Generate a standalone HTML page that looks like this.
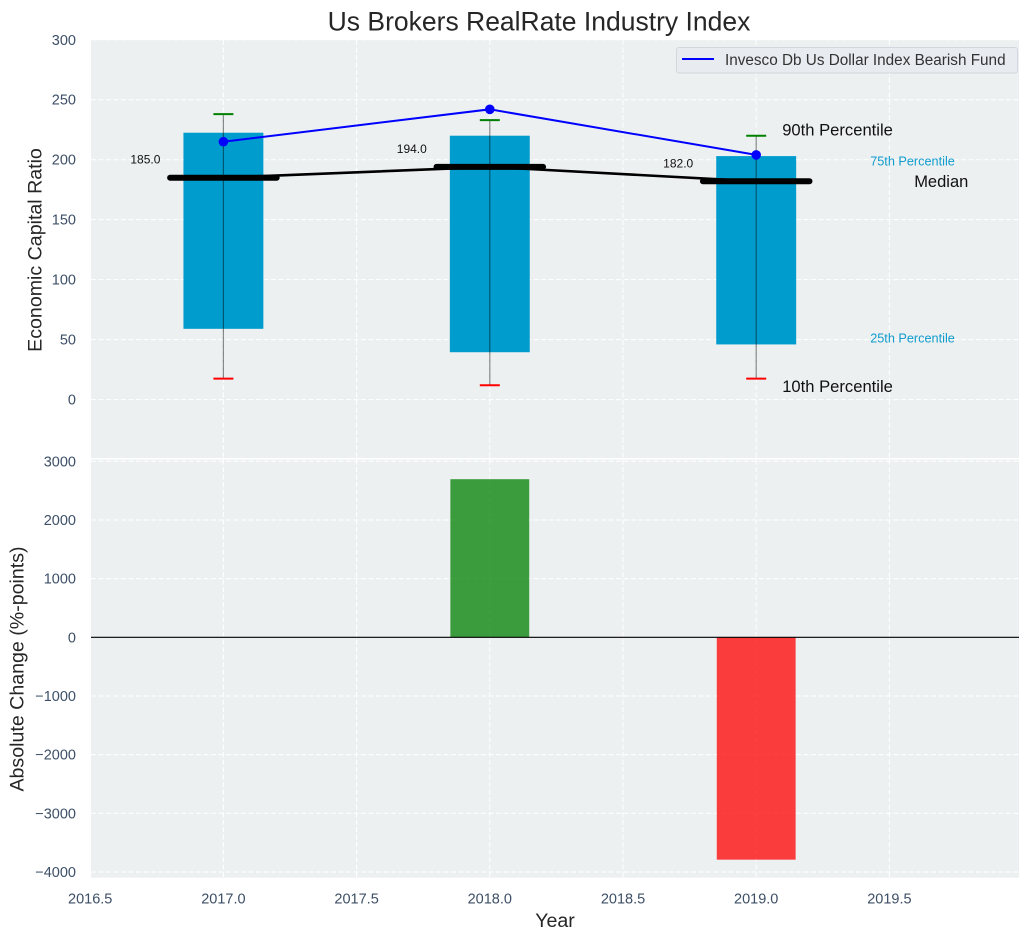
<!DOCTYPE html>
<html lang="en">
<head>
<meta charset="utf-8">
<title>Us Brokers RealRate Industry Index</title>
<style>
html,body{margin:0;padding:0;background:#fff}
svg{display:block;font-family:"Liberation Sans",Arial,sans-serif}
</style>
</head>
<body>
<svg id="chart" xmlns="http://www.w3.org/2000/svg" width="1029" height="940" viewBox="0 0 1029 940"></svg>
<script>
const years = [2017, 2018, 2019];
const whiskerHigh = [238, 233, 220];
const boxHigh = [222.5, 220, 203];
const median = [185, 194, 182];
const boxLow = [59, 39.5, 46];
const whiskerLow = [17.5, 12, 17.5];
const fundValues = [215, 242, 204];
const changeValues = [0, 2695, -3790];
const fundName = 'Invesco Db Us Dollar Index Bearish Fund';
const xTicks = [2016.5, 2017, 2017.5, 2018, 2018.5, 2019, 2019.5];
const topTicks = [0, 50, 100, 150, 200, 250, 300];
const bottomTicks = [-4000, -3000, -2000, -1000, 0, 1000, 2000, 3000];

const svg = document.getElementById('chart');
const NS = 'http://www.w3.org/2000/svg';
const X = v => 223.4 + (v - 2017) * 266.4;
const YT = v => 399.6 - v * 1.1995;
const YB = v => 637.3 - v * 0.05867;
const L = 91, R = 1019;
const BOX_W = 0.3, MED_W = 0.4, CAP = 10;

function el(tag, attrs, parent) {
  const e = document.createElementNS(NS, tag);
  for (const k in attrs) e.setAttribute(k, attrs[k]);
  (parent || svg).appendChild(e);
  return e;
}
function txt(s, attrs, parent) {
  const e = el('text', attrs, parent);
  e.textContent = s;
  return e;
}
const fmtTick = v => (v < 0 ? '\u2212' + Math.abs(v) : String(v));

/* panels */
const panelTop = el('rect', {x: L, y: 40, width: R - L, height: 418, fill: '#ecf0f1'});


const panelBottom = el('rect', {x: L, y: 459.6, width: R - L, height: 418.1, fill: '#ecf0f1'});



/* grid */
const grid = el('g', {stroke: '#fff', 'stroke-width': 1, 'stroke-dasharray': '5 2.5', fill: 'none'});


xTicks.forEach(t => {
  if (X(t) < L) return;
  el('line', {x1: X(t), x2: X(t), y1: 40, y2: 458}, grid);
  el('line', {x1: X(t), x2: X(t), y1: 459.6, y2: 877.7}, grid);
});
topTicks.forEach(t => el('line', {x1: L, x2: R, y1: YT(t), y2: YT(t)}, grid));
bottomTicks.forEach(t => el('line', {x1: L, x2: R, y1: YB(t), y2: YB(t)}, grid));

/* ticks */
const tickStyle = {fill: '#3d4f66', 'font-size': 14.5};
const xAxis = el('g', tickStyle);


xTicks.forEach(t => {
  const label = txt(t.toFixed(1), {x: X(t), y: 903.5, 'text-anchor': 'middle'}, xAxis);
  
  
});
const yAxisTop = el('g', tickStyle);


topTicks.forEach(t => {
  const label = txt(fmtTick(t), {x: 76, y: YT(t) + 5, 'text-anchor': 'end'}, yAxisTop);
  
  
});
const yAxisBottom = el('g', tickStyle);


bottomTicks.forEach(t => {
  const label = txt(fmtTick(t), {x: 76, y: YB(t) + 5, 'text-anchor': 'end'}, yAxisBottom);
  
  
});

/* boxes */
years.forEach((yr, i) => {
  const box = el('rect', {
    x: X(yr - BOX_W / 2), width: X(yr + BOX_W / 2) - X(yr - BOX_W / 2),
    y: YT(boxHigh[i]), height: YT(boxLow[i]) - YT(boxHigh[i]), fill: '#009ccd'
  });
  
  
  const whisker = el('line', {
    x1: X(yr), x2: X(yr), y1: YT(whiskerHigh[i]), y2: YT(whiskerLow[i]),
    stroke: '#000', 'stroke-opacity': 0.45, 'stroke-width': 1.2
  });
  
  
  const capHigh = el('line', {
    x1: X(yr) - CAP, x2: X(yr) + CAP, y1: YT(whiskerHigh[i]), y2: YT(whiskerHigh[i]),
    stroke: '#008000', 'stroke-width': 2
  });
  
  
  const capLow = el('line', {
    x1: X(yr) - CAP, x2: X(yr) + CAP, y1: YT(whiskerLow[i]), y2: YT(whiskerLow[i]),
    stroke: '#ff0000', 'stroke-width': 2
  });
  
  
});

/* median connector and thick median bars */
const medianLine = el('polyline', {
  points: years.map((yr, i) => X(yr) + ',' + YT(median[i])).join(' '),
  fill: 'none', stroke: '#000', 'stroke-width': 2.6
});


years.forEach((yr, i) => {
  const bar = el('line', {
    x1: X(yr - MED_W / 2), x2: X(yr + MED_W / 2), y1: YT(median[i]), y2: YT(median[i]),
    stroke: '#000', 'stroke-width': 6, 'stroke-linecap': 'round'
  });
  
  
  const label = txt(median[i].toFixed(1), {
    x: X(yr) - 78, y: YT(median[i]) - 14, 'text-anchor': 'middle', 'font-size': 12, fill: '#111'
  });
  
  
});

/* fund line */
const fundLine = el('polyline', {
  points: years.map((yr, i) => X(yr) + ',' + YT(fundValues[i])).join(' '),
  fill: 'none', stroke: '#0000ff', 'stroke-width': 2
});


years.forEach((yr, i) => {
  const pt = el('circle', {cx: X(yr), cy: YT(fundValues[i]), r: 4.8, fill: '#0000ff'});
  
  
});

/* percentile annotations, anchored on the last year */
const last = years.length - 1;
const ax = X(years[last]);
const p90 = txt('90th Percentile', {x: ax + 26, y: YT(whiskerHigh[last]) - 0.3, 'font-size': 16.6, fill: '#111'});


const p75 = txt('75th Percentile', {x: ax + 114, y: YT(boxHigh[last]) + 9.4, 'font-size': 12.7, fill: '#119ccd'});


const pMed = txt('Median', {x: ax + 158, y: YT(median[last]) + 5.5, 'font-size': 16.5, fill: '#111'});


const p25 = txt('25th Percentile', {x: ax + 114, y: YT(boxLow[last]) - 1.8, 'font-size': 12.7, fill: '#119ccd'});


const p10 = txt('10th Percentile', {x: ax + 26, y: YT(whiskerLow[last]) + 13.6, 'font-size': 16.6, fill: '#111'});



/* bottom panel bars */
years.forEach((yr, i) => {
  const v = changeValues[i];
  const bar = el('rect', {
    x: X(yr - 0.148), width: X(yr + 0.148) - X(yr - 0.148),
    y: Math.min(YB(0), YB(v)), height: Math.abs(YB(v) - YB(0)),
    fill: v >= 0 ? '#008000' : '#ff0000', 'fill-opacity': 0.75
  });
  
  
});
const zero = el('line', {x1: L, x2: R, y1: YB(0), y2: YB(0), stroke: '#000', 'stroke-width': 1.2});



/* legend */
const legend = el('g', {});


el('rect', {x: 676.5, y: 47.5, width: 341, height: 25.5, rx: 2.5, fill: '#e8ebf0', stroke: '#d3d6dc', 'stroke-width': 1}, legend);
const legendKey = el('line', {x1: 682, x2: 714, y1: 59, y2: 59, stroke: '#0000ff', 'stroke-width': 2}, legend);


const legendText = txt(fundName, {x: 725, y: 65, 'font-size': 15.3, fill: '#333'}, legend);



/* titles */
const title = txt('Us Brokers RealRate Industry Index', {x: 539, y: 30.5, 'text-anchor': 'middle', 'font-size': 26.5, fill: '#262626'});


const xTitle = txt('Year', {x: 555, y: 927, 'text-anchor': 'middle', 'font-size': 19.6, fill: '#262626'});


const yTop = txt('Economic Capital Ratio', {x: 0, y: 0, 'text-anchor': 'middle', 'font-size': 19.6, fill: '#262626', transform: 'translate(41.5,250) rotate(-90)'});


const yBottom = txt('Absolute Change (%-points)', {x: 0, y: 0, 'text-anchor': 'middle', 'font-size': 19.6, fill: '#262626', transform: 'translate(23.5,669) rotate(-90)'});


</script>
</body>
</html>
